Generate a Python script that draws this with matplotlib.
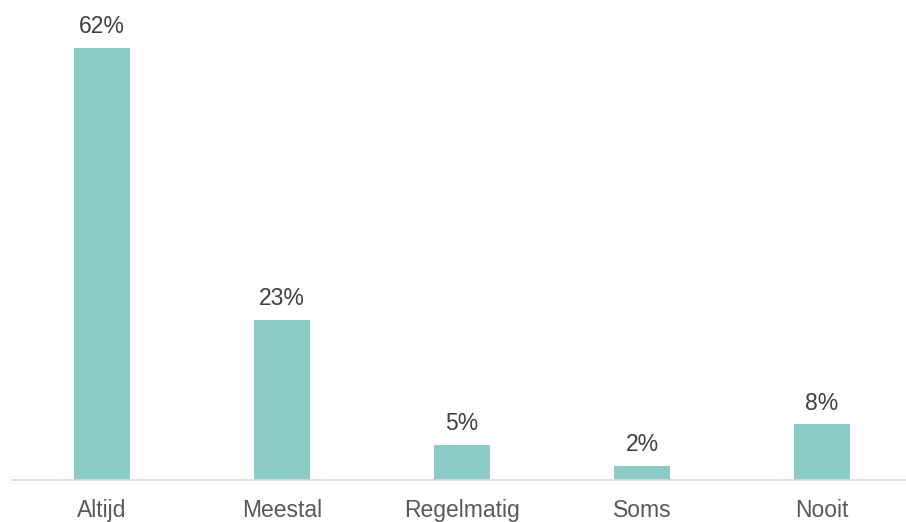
import matplotlib.pyplot as plt

plt.rcParams['font.family'] = ['Liberation Sans', 'DejaVu Sans']

# data
categories = ["Altijd", "Meestal", "Regelmatig", "Soms", "Nooit"]
values = [62, 23, 5, 2, 8]

W, H = 906, 522
fig = plt.figure(figsize=(W / 100, H / 100), dpi=100)
# axes spans 12..912 px horizontally (last slot runs off the canvas), baseline at y=480
ax = fig.add_axes([12 / W, (H - 480) / H, 900 / W, 480 / H])

x = range(len(categories))
bars = ax.bar(x, values, width=0.31, color='#8ccbc8')

ax.set_xlim(-0.5, 4.5)
ax.set_ylim(0, 480 / (432 / 62))

for b, v in zip(bars, values):
    ax.annotate(f"{v}%", (b.get_x() + b.get_width() / 2, v),
                xytext=(0, 7), textcoords='offset points',
                ha='center', va='bottom', fontsize=16.5, color='#404040')

ax.set_xticks(list(x))
ax.set_xticklabels(categories, fontsize=16.5, color='#595959')
ax.tick_params(axis='x', length=0, pad=14)
ax.set_yticks([])
for s in ['top', 'right', 'left']:
    ax.spines[s].set_visible(False)
ax.spines['bottom'].set_color('#d9d9d9')
ax.spines['bottom'].set_linewidth(1.2)

fig.savefig('out.png', dpi=100)
